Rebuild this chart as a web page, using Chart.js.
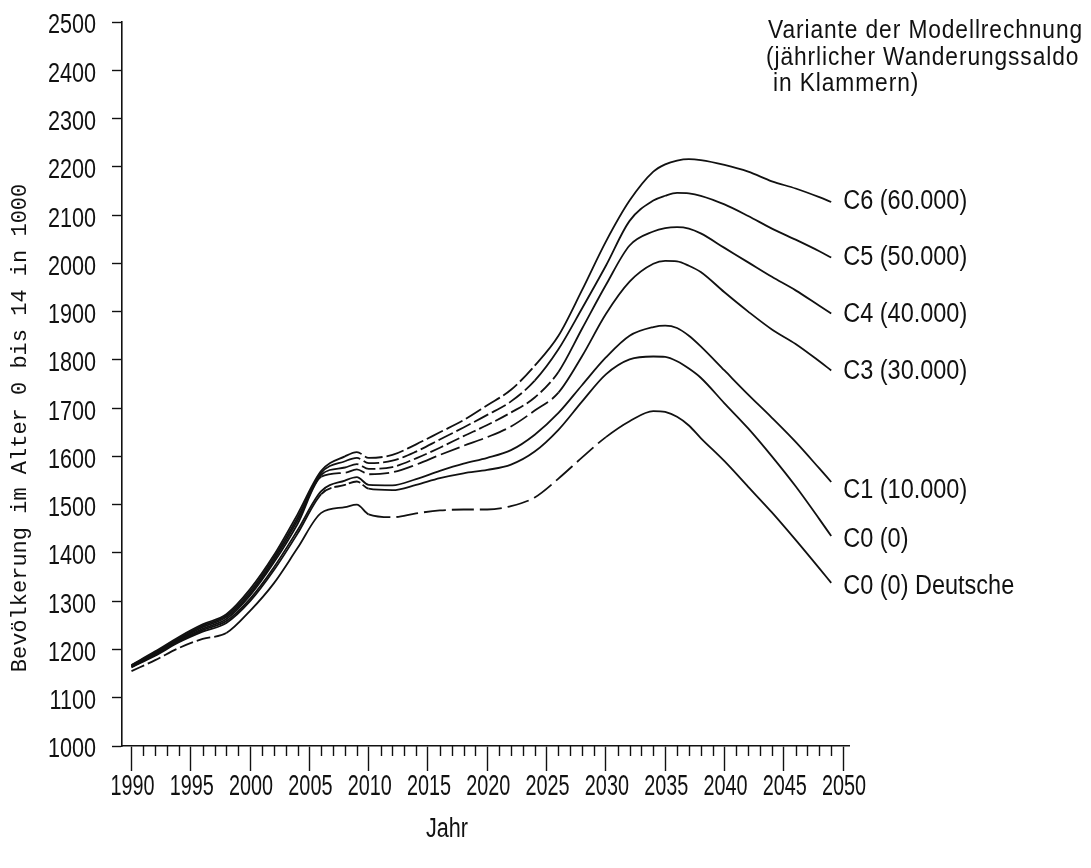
<!DOCTYPE html>
<html>
<head>
<meta charset="utf-8">
<title>Bevölkerung im Alter 0 bis 14</title>
<script src="https://cdn.jsdelivr.net/npm/chart.js@4/dist/chart.umd.min.js"></script>
<style>
  html, body { margin: 0; padding: 0; background: #fff; }
  #wrap { width: 1091px; height: 868px; }
</style>
</head>
<body>
<div id="wrap"><canvas id="chart" width="1091" height="868"></canvas></div>
<script>
// data (1000 persons)
const years = [1990,1992,1994,1996,1998,2000,2002,2004,2006,2008,2009,2010,2012,2014,2016,2018,2020,2022,2024,2026,2028,2030,2032,2034,2035,2036,2037,2038,2040,2042,2044,2046,2048,2049]

const c6 = [1168,1196,1226,1252,1273,1325,1395,1480,1570,1600,1609,1597,1603,1625,1650,1675,1706,1738,1788,1850,1945,2045,2130,2190,2205,2213,2216,2214,2204,2190,2170,2155,2137,2127]
const c5 = [1167,1194,1223,1249,1270,1320,1390,1473,1566,1590,1597,1586,1591,1610,1635,1660,1686,1714,1757,1822,1907,1995,2088,2130,2140,2146,2145,2140,2122,2098,2072,2049,2025,2012]
const c4 = [1166,1192,1221,1246,1267,1316,1385,1467,1562,1577,1584,1574,1578,1596,1618,1642,1665,1691,1722,1775,1865,1955,2037,2066,2073,2075,2072,2062,2032,2002,1972,1944,1912,1896]
const c3 = [1165,1190,1219,1243,1263,1312,1380,1460,1558,1566,1573,1563,1567,1583,1603,1622,1640,1662,1695,1732,1808,1895,1962,1999,2005,2004,1995,1982,1940,1900,1863,1833,1797,1778]
const c1 = [1164,1189,1217,1240,1259,1305,1370,1447,1528,1550,1557,1541,1540,1553,1570,1585,1597,1613,1645,1690,1748,1805,1850,1868,1871,1866,1850,1828,1778,1728,1680,1630,1575,1547]
const c0 = [1163,1187,1215,1237,1255,1300,1364,1440,1522,1541,1548,1533,1530,1541,1555,1565,1572,1583,1610,1655,1714,1770,1801,1807,1806,1797,1782,1763,1710,1658,1600,1538,1470,1435]
const c0de = [1155,1178,1203,1222,1234,1280,1337,1410,1483,1495,1500,1480,1474,1482,1488,1490,1490,1497,1515,1554,1598,1640,1673,1694,1692,1682,1664,1638,1590,1537,1484,1427,1368,1338]

const seriesNames = ['C6 (60.000)', 'C5 (50.000)', 'C4 (40.000)', 'C3 (30.000)', 'C1 (10.000)', 'C0 (0)', 'C0 (0) Deutsche']
const xTickYears = [1990,1995,2000,2005,2010,2015,2020,2025,2030,2035,2040,2045,2050]
const headerLines = ['Variante der Modellrechnung', '(jährlicher Wanderungssaldo', 'in Klammern)']
const yTitle = 'Bevölkerung im Alter 0 bis 14 in 1000'
const xTitle = 'Jahr'

const ink = '#111'
const sans = "'Liberation Sans', Arial, sans-serif"

// dashed stretches as they appear in the copy
function dashed(ranges) {
  return {
    borderDash: ctx => {
      const a = ctx.p0.parsed.x, b = ctx.p1.parsed.x
      for (const r of ranges) {
        if (a >= r[0] && b <= r[1]) return r[2]
      }
      return undefined
    }
  }
}

const allSeries = [c6, c5, c4, c3, c1, c0, c0de]
const labelShift = [0, 0, 1, 1, 9, 4, 4]
const dashes = [
  [[2008, 2024, [18, 4]]],
  [[2008, 2024, [16, 4]]],
  [[2008, 2026, [14, 4]]],
  [[2006, 2026, [20, 5]]],
  [],
  [[2006, 2010, [12, 3]]],
  [[1990, 1998, [14, 4]], [2010, 2030, [22, 6]]]
]

const datasets = allSeries.map((vals, i) => ({
  label: seriesNames[i],
  data: years.map((yr, k) => ({ x: yr, y: vals[k] })),
  borderColor: ink,
  borderWidth: 1.8,
  pointRadius: 0,
  fill: false,
  cubicInterpolationMode: 'monotone',
  segment: dashed(dashes[i]),
  labelShift: labelShift[i]
}))

// draw text squeezed horizontally, like the narrow type of the original
function squeezed(ctx, text, x, y, sx, align) {
  ctx.save()
  ctx.translate(x, y)
  ctx.scale(sx, 1)
  ctx.textAlign = align
  ctx.fillText(text, 0, 0)
  ctx.restore()
}

const decor = {
  id: 'decor',
  afterDraw(chart) {
    const ctx = chart.ctx
    const xs = chart.scales.x, ys = chart.scales.y
    ctx.save()
    ctx.fillStyle = ink
    ctx.strokeStyle = ink
    ctx.textBaseline = 'middle'

    // minor year ticks under the x axis
    const base = ys.getPixelForValue(1000)
    ctx.lineWidth = 1.4
    for (let yr = 1990; yr <= 2050; yr++) {
      if (yr % 5 === 0) continue
      const px = Math.round(xs.getPixelForValue(yr)) + 0.5
      ctx.beginPath()
      ctx.moveTo(px, base)
      ctx.lineTo(px, base + 10)
      ctx.stroke()
    }

    // tick labels
    ctx.font = "27px " + sans
    ys.ticks.forEach(t => {
      squeezed(ctx, String(t.value), 96, ys.getPixelForValue(t.value) + 4, 0.8, 'right')
    })
    ctx.font = "30px " + sans
    xs.ticks.forEach(t => {
      squeezed(ctx, String(t.value), xs.getPixelForValue(t.value) + 1, 787, 0.66, 'center')
    })

    // labels at the line ends
    ctx.font = "27px " + sans
    chart.data.datasets.forEach((ds, i) => {
      const pts = chart.getDatasetMeta(i).data
      const p = pts[pts.length - 1]
      squeezed(ctx, ds.label, p.x + 12, p.y + ds.labelShift, 0.87, 'left')
    })

    // legend header top right
    ctx.font = "25px " + sans
    ctx.letterSpacing = '1px'
    const fit = 315 / ctx.measureText(headerLines[0]).width
    squeezed(ctx, headerLines[0], 768, 31, fit, 'left')
    squeezed(ctx, headerLines[1], 766, 58, fit, 'left')
    squeezed(ctx, headerLines[2], 773, 84, fit, 'left')
    ctx.letterSpacing = '0px'

    // axis titles
    ctx.font = "22px 'Liberation Mono', monospace"
    ctx.save()
    ctx.translate(20, 428)
    ctx.rotate(-Math.PI / 2)
    ctx.textAlign = 'center'
    ctx.fillText(yTitle, 0, 0)
    ctx.restore()

    ctx.font = "27px " + sans
    squeezed(ctx, xTitle, 447, 830, 0.8, 'center')

    ctx.restore()
  }
}

new Chart(document.getElementById('chart'), {
  type: 'line',
  data: { datasets },
  options: {
    responsive: false,
    animation: false,
    devicePixelRatio: 1,
    layout: { padding: { top: 22, right: 242, bottom: 0, left: 0 } },
    plugins: { legend: { display: false }, tooltip: { enabled: false } },
    scales: {
      x: {
        type: 'linear',
        min: 1989.2,
        max: 2050.5,
        afterFit: s => { s.height = 122 },
        afterBuildTicks: s => { s.ticks = xTickYears.map(v => ({ value: v })) },
        grid: { drawOnChartArea: false, tickLength: 25, tickColor: ink, tickWidth: 1.4 },
        border: { color: ink, width: 1.6 },
        ticks: { display: false }
      },
      y: {
        min: 1000,
        max: 2500,
        afterFit: s => { s.width = 122 },
        grid: { drawOnChartArea: false, tickLength: 10, tickColor: ink, tickWidth: 1.4 },
        border: { color: ink, width: 1.6 },
        ticks: { display: false, stepSize: 100 }
      }
    }
  },
  plugins: [decor]
})
</script>
</body>
</html>
